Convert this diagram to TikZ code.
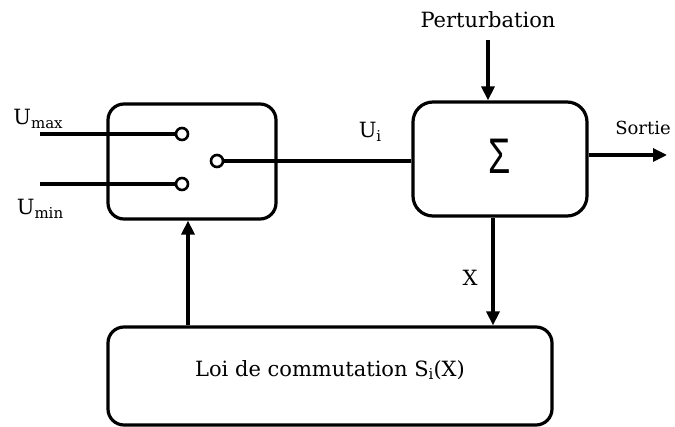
\documentclass[tikz,border=0pt]{standalone}
\usepackage{fontspec}
\setmainfont{DejaVu Serif}
\newfontfamily\sigfont{Liberation Sans}
\usetikzlibrary{arrows.meta}
\newcommand{\mysub}[1]{\raisebox{-0.35ex}{\fontsize{15}{15}\selectfont #1}}
\begin{document}
\begin{tikzpicture}[x=1pt,y=-1pt,
  line width=3.2pt,
  blk/.style={draw,rounded corners=16pt,line width=3.2pt},
  arr/.style={-{Triangle[length=14pt,width=13pt]}},
  lbl/.style={font=\fontsize{21}{21}\selectfont,inner sep=0pt},
  term/.style={circle,draw,line width=2.6pt,minimum size=12pt,inner sep=0pt,fill=white}]
\useasboundingbox (0,0) rectangle (675,427);
% blocks
\node[blk,minimum width=168pt,minimum height=115pt,inner sep=0pt] (sw) at (192,161.5) {};
\node[blk,minimum width=174pt,minimum height=114pt,inner sep=0pt,rounded corners=20pt] (sum) at (500,159) {};
\node[blk,minimum width=444pt,minimum height=98pt,inner sep=0pt] (loi) at (330,376) {};
\node[inner sep=0pt] at (500,156) {\sigfont\fontsize{50}{50}\selectfont\scalebox{0.72}[1]{Σ}};
\node[lbl] (loitxt) at (330,370) {Loi de commutation S\mysub{i}(X)};
% terminals
\node[term] (t1) at (182,134) {};
\node[term] (t2) at (182,184) {};
\node[term] (t3) at (217,161) {};
\coordinate (in1) at (40,134);
\coordinate (in2) at (40,184);
\draw (in1) -- (t1.west);
\draw (in2) -- (t2.west);
\draw (t3.east) -- (sum.west |- t3);
% labels
\node[lbl] (umax) at (38,119) {U\mysub{max}};
\node[lbl] (umin) at (40,209) {U\mysub{min}};
\node[lbl] (ui) at (370,132) {U\mysub{i}};
\node[lbl] (pert) at (488,20) {Perturbation};
\node[lbl,font=\fontsize{18}{18}\selectfont] (sortie) at (643,128) {Sortie};
\node[lbl] (x) at (470,278) {X};
% arrows
\coordinate (ptop) at (488,40);
\draw[arr] (ptop) -- (ptop |- sum.north);
\coordinate (out) at (667,155);
\draw[arr] (sum.east |- out) -- (out);
\draw[arr] (sum.south -| 493,0) -- (loi.north -| 493,0);
\draw[arr] (loi.north -| 188,0) -- (sw.south -| 188,0);
\end{tikzpicture}
\end{document}
